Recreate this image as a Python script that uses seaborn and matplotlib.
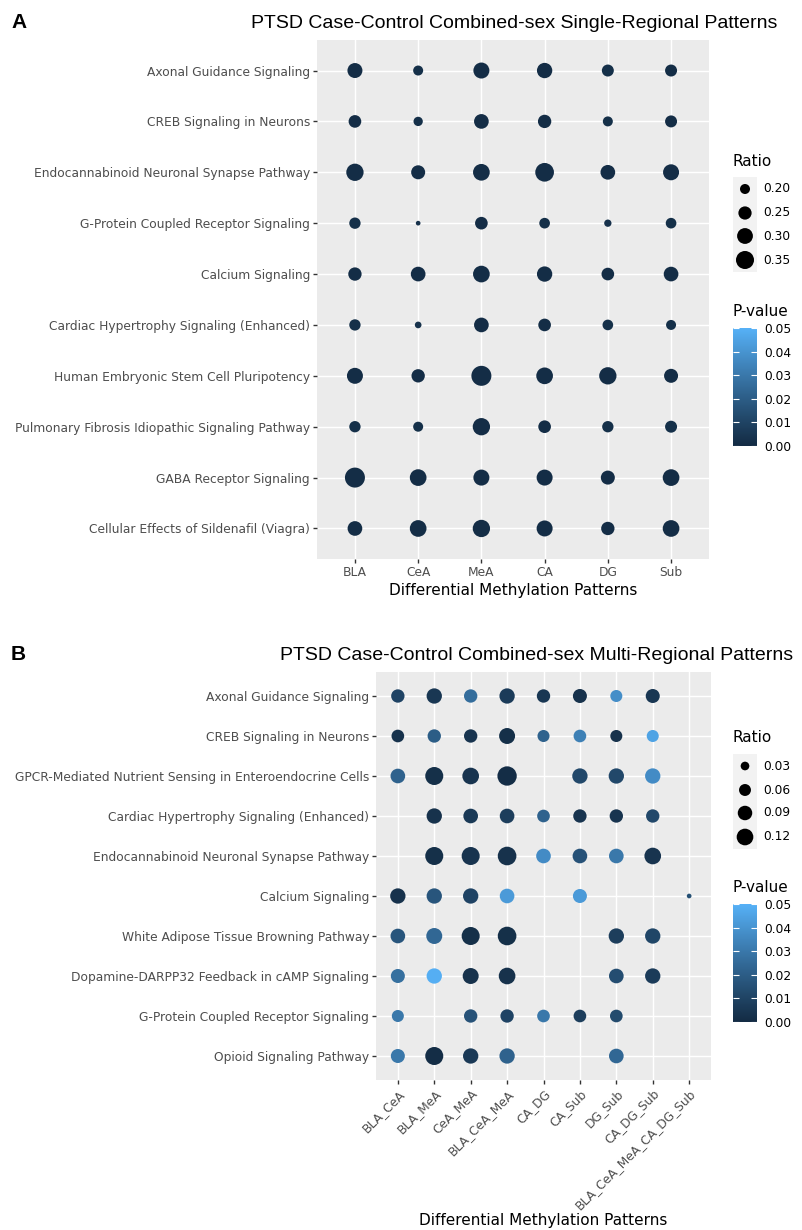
import numpy as np
import pandas as pd
import matplotlib
matplotlib.use("Agg")
import matplotlib.pyplot as plt
import seaborn as sns
from matplotlib.colors import LinearSegmentedColormap, Normalize
import matplotlib.cm as cm

# ---------------- data ----------------
regions_a = ["BLA", "CeA", "MeA", "CA", "DG", "Sub"]
pathways_a = [
    "Axonal Guidance Signaling",
    "CREB Signaling in Neurons",
    "Endocannabinoid Neuronal Synapse Pathway",
    "G-Protein Coupled Receptor Signaling",
    "Calcium Signaling",
    "Cardiac Hypertrophy Signaling (Enhanced)",
    "Human Embryonic Stem Cell Pluripotency",
    "Pulmonary Fibrosis Idiopathic Signaling Pathway",
    "GABA Receptor Signaling",
    "Cellular Effects of Sildenafil (Viagra)",
]
ratio_a = [
    [0.283, 0.200, 0.304, 0.290, 0.229, 0.229],
    [0.240, 0.191, 0.277, 0.252, 0.200, 0.229],
    [0.333, 0.264, 0.319, 0.366, 0.277, 0.304],
    [0.219, 0.148, 0.240, 0.209, 0.169, 0.209],
    [0.252, 0.277, 0.319, 0.290, 0.240, 0.277],
    [0.219, 0.163, 0.277, 0.240, 0.209, 0.200],
    [0.304, 0.252, 0.400, 0.319, 0.333, 0.264],
    [0.219, 0.200, 0.333, 0.240, 0.219, 0.229],
    [0.400, 0.319, 0.304, 0.304, 0.264, 0.319],
    [0.277, 0.319, 0.333, 0.304, 0.252, 0.319],
]
pval_a = [
    [0.001, 0.002, 0.001, 0.001, 0.002, 0.001],
    [0.001, 0.002, 0.001, 0.001, 0.002, 0.001],
    [0.001, 0.001, 0.001, 0.001, 0.001, 0.001],
    [0.002, 0.003, 0.001, 0.002, 0.003, 0.002],
    [0.001, 0.001, 0.001, 0.001, 0.001, 0.001],
    [0.002, 0.003, 0.001, 0.001, 0.002, 0.002],
    [0.001, 0.001, 0.001, 0.001, 0.001, 0.001],
    [0.002, 0.002, 0.001, 0.001, 0.002, 0.002],
    [0.001, 0.001, 0.001, 0.001, 0.001, 0.001],
    [0.001, 0.001, 0.001, 0.001, 0.001, 0.001],
]

regions_b = ["BLA_CeA", "BLA_MeA", "CeA_MeA", "BLA_CeA_MeA", "CA_DG",
             "CA_Sub", "DG_Sub", "CA_DG_Sub", "BLA_CeA_MeA_CA_DG_Sub"]
pathways_b = [
    "Axonal Guidance Signaling",
    "CREB Signaling in Neurons",
    "GPCR-Mediated Nutrient Sensing in Enteroendocrine Cells",
    "Cardiac Hypertrophy Signaling (Enhanced)",
    "Endocannabinoid Neuronal Synapse Pathway",
    "Calcium Signaling",
    "White Adipose Tissue Browning Pathway",
    "Dopamine-DARPP32 Feedback in cAMP Signaling",
    "G-Protein Coupled Receptor Signaling",
    "Opioid Signaling Pathway",
]
N = None
ratio_b = [
    [0.076, 0.101, 0.076, 0.101, 0.076, 0.084, 0.061, 0.084, N],
    [0.068, 0.076, 0.076, 0.110, 0.061, 0.068, 0.061, 0.061, N],
    [0.092, 0.141, 0.120, 0.163, N, 0.101, 0.101, 0.101, N],
    [N, 0.101, 0.092, 0.092, 0.068, 0.076, 0.076, 0.076, N],
    [N, 0.141, 0.141, 0.151, 0.092, 0.092, 0.092, 0.120, N],
    [0.101, 0.101, 0.101, 0.092, N, 0.084, N, N, 0.0065],
    [0.092, 0.110, 0.141, 0.151, N, N, 0.101, 0.101, N],
    [0.084, 0.101, 0.110, 0.120, N, N, 0.092, 0.101, N],
    [0.061, N, 0.076, 0.076, 0.068, 0.068, 0.068, N, N],
    [0.084, 0.141, 0.101, 0.101, N, N, 0.092, N, N],
]
pval_b = [
    [0.010, 0.005, 0.026, 0.007, 0.005, 0.003, 0.038, 0.005, N],
    [0.003, 0.020, 0.004, 0.002, 0.022, 0.033, 0.003, 0.045, N],
    [0.022, 0.002, 0.004, 0.001, N, 0.012, 0.012, 0.037, N],
    [N, 0.003, 0.006, 0.008, 0.022, 0.004, 0.004, 0.012, N],
    [N, 0.002, 0.004, 0.003, 0.037, 0.016, 0.030, 0.004, N],
    [0.003, 0.017, 0.010, 0.042, N, 0.042, N, N, 0.015],
    [0.017, 0.024, 0.002, 0.002, N, N, 0.008, 0.011, N],
    [0.027, 0.049, 0.003, 0.003, N, N, 0.014, 0.007, N],
    [0.030, N, 0.016, 0.010, 0.030, 0.008, 0.013, N, N],
    [0.030, 0.001, 0.006, 0.022, N, N, 0.024, N, N],
]

ratio_legend_a = [0.20, 0.25, 0.30, 0.35]
ratio_legend_b = [0.03, 0.06, 0.09, 0.12]
pvalue_ticks = [0.00, 0.01, 0.02, 0.03, 0.04, 0.05]
title_a = "PTSD Case-Control Combined-sex Single-Regional Patterns"
title_b = "PTSD Case-Control Combined-sex Multi-Regional Patterns"
xlabel = "Differential Methylation Patterns"

# ---------------- colour scale (ggplot2 default, Lab interpolation) ----------------
_M = np.array([[0.4124, 0.3576, 0.1805], [0.2126, 0.7152, 0.0722], [0.0193, 0.1192, 0.9505]])
_WHITE = np.array([0.95047, 1.0, 1.08883])


def _to_lab(hexc):
    rgb = np.array([int(hexc[i:i + 2], 16) / 255 for i in (1, 3, 5)])
    lin = np.where(rgb <= 0.04045, rgb / 12.92, ((rgb + 0.055) / 1.055) ** 2.4)
    xyz = _M @ lin / _WHITE
    f = np.where(xyz > 0.008856, np.cbrt(xyz), 7.787 * xyz + 16 / 116)
    return np.array([116 * f[1] - 16, 500 * (f[0] - f[1]), 200 * (f[1] - f[2])])


def _from_lab(lab):
    fy = (lab[0] + 16) / 116
    f = np.array([fy + lab[1] / 500, fy, fy - lab[2] / 200])
    xyz = np.where(f ** 3 > 0.008856, f ** 3, (f - 16 / 116) / 7.787) * _WHITE
    lin = np.linalg.inv(_M) @ xyz
    rgb = np.where(lin <= 0.0031308, 12.92 * lin, 1.055 * np.clip(lin, 0, None) ** (1 / 2.4) - 0.055)
    return np.clip(rgb, 0, 1)


lo, hi = _to_lab("#132B43"), _to_lab("#56B1F7")
cmap = LinearSegmentedColormap.from_list(
    "gg", [_from_lab(lo + (hi - lo) * t) for t in np.linspace(0, 1, 64)])
pnorm = Normalize(0, 0.05)

# ---------------- figure ----------------
W, H = 802, 1230
fig = plt.figure(figsize=(W / 100, H / 100), dpi=100)
plt.rcParams["font.family"] = ["DejaVu Sans"]


def px_axes(x0, y0, x1, y1):
    return fig.add_axes([x0 / W, 1 - y1 / H, (x1 - x0) / W, (y1 - y0) / H])


def area_a(v):
    return 0.5184 * (100 + (v - 0.2) * 1500)


def area_b(v):
    return 0.5184 * (75 + (v - 0.03) * 2250)


def draw_panel(ax, regions, pathways, ratio, pval, area_fn, rotate):
    rows = []
    for i, p in enumerate(pathways):
        for j, r in enumerate(regions):
            if ratio[i][j] is None:
                continue
            rows.append({"Pathway": p, "Region": r, "Ratio": ratio[i][j], "P": pval[i][j]})
    df = pd.DataFrame(rows)
    df["xpos"] = pd.Categorical(df["Region"], categories=regions).codes
    df["ypos"] = pd.Categorical(df["Pathway"], categories=pathways).codes
    vmin, vmax = df["Ratio"].min(), df["Ratio"].max()
    sns.scatterplot(data=df, x="xpos", y="ypos", hue="P", palette=cmap, hue_norm=(0, 0.05),
                    size="Ratio", sizes=(area_fn(vmin), area_fn(vmax)), size_norm=(vmin, vmax),
                    linewidth=0, legend=False, ax=ax, zorder=3)
    ax.set_xlim(-0.6, len(regions) - 0.4)
    ax.set_ylim(len(pathways) - 0.4, -0.6)
    ax.set_xticks(range(len(regions)))
    ax.set_yticks(range(len(pathways)))
    ax.set_yticklabels(pathways, fontsize=8.8, color="#4D4D4D")
    if rotate:
        ax.set_xticklabels(regions, fontsize=8.8, color="#4D4D4D", rotation=45,
                           ha="right", va="top", rotation_mode="anchor")
    else:
        ax.set_xticklabels(regions, fontsize=8.8, color="#4D4D4D")
    ax.set_xlabel("")
    ax.set_ylabel("")
    ax.set_facecolor("#EBEBEB")
    ax.grid(True, color="white", linewidth=1.07)
    ax.set_axisbelow(True)
    for s in ax.spines.values():
        s.set_visible(False)
    ax.tick_params(length=2.75, width=1.0, color="#333333", pad=2.2)


def ratio_legend(xk, ytitle, ykeys, values, area_fn):
    lax = px_axes(0, 0, W, H)
    lax.set_xlim(0, W)
    lax.set_ylim(H, 0)
    lax.axis("off")
    lax.text(xk, ytitle, "Ratio", fontsize=11, va="center", ha="left")
    half = 12
    lax.add_patch(plt.Rectangle((xk, ykeys[0] - half), 24, ykeys[-1] - ykeys[0] + 2 * half,
                                facecolor="#F2F2F2", edgecolor="none"))
    lax.scatter([xk + 12] * len(values), ykeys, s=[area_fn(v) for v in values],
                color="black", linewidth=0, zorder=3)
    for y, v in zip(ykeys, values):
        lax.text(xk + 30, y, f"{v:.2f}", fontsize=8.8, va="center", ha="left")
    return lax


def pvalue_bar(xk, ytitle, ytop, ybot):
    fig.text(xk / W, 1 - ytitle / H, "P-value", fontsize=11, va="center", ha="left")
    cax = px_axes(xk, ytop, xk + 24, ybot)
    cb = fig.colorbar(cm.ScalarMappable(norm=pnorm, cmap=cmap), cax=cax, ticks=pvalue_ticks)
    cb.outline.set_visible(False)
    cax.set_yticklabels([f"{t:.2f}" for t in pvalue_ticks], fontsize=8.8)
    cax.tick_params(axis="y", direction="in", length=4.5, width=0.8, color="white",
                    left=True, right=True, pad=5)


# Panel A
axA = px_axes(317, 40, 709, 559)
draw_panel(axA, regions_a, pathways_a, ratio_a, pval_a, area_a, rotate=False)
fig.text(513 / W, 1 - 590 / H, xlabel, fontsize=11, ha="center", va="center")
fig.text(514 / W, 1 - 23 / H, title_a, fontsize=14, ha="center", va="center",
         family=["Liberation Sans", "DejaVu Sans"])
fig.text(11 / W, 1 - 23 / H, "A", fontsize=15, fontweight="bold", ha="left", va="center",
         family=["Liberation Sans", "DejaVu Sans"])
ratio_legend(733, 162, [189, 213, 236, 260], ratio_legend_a, area_a)
pvalue_bar(733, 312, 328, 446)

# Panel B
axB = px_axes(376, 672, 711, 1080)
draw_panel(axB, regions_b, pathways_b, ratio_b, pval_b, area_b, rotate=True)
fig.text(543 / W, 1 - 1220 / H, xlabel, fontsize=11, ha="center", va="center")
fig.text(537 / W, 1 - 655 / H, title_b, fontsize=14, ha="center", va="center",
         family=["Liberation Sans", "DejaVu Sans"])
fig.text(11 / W, 1 - 655 / H, "B", fontsize=15, fontweight="bold", ha="left", va="center",
         family=["Liberation Sans", "DejaVu Sans"])
ratio_legend(733, 738, [766, 790, 813, 837], ratio_legend_b, area_b)
pvalue_bar(733, 888, 904, 1022)

fig.savefig("out.png", dpi=100, facecolor="white")
